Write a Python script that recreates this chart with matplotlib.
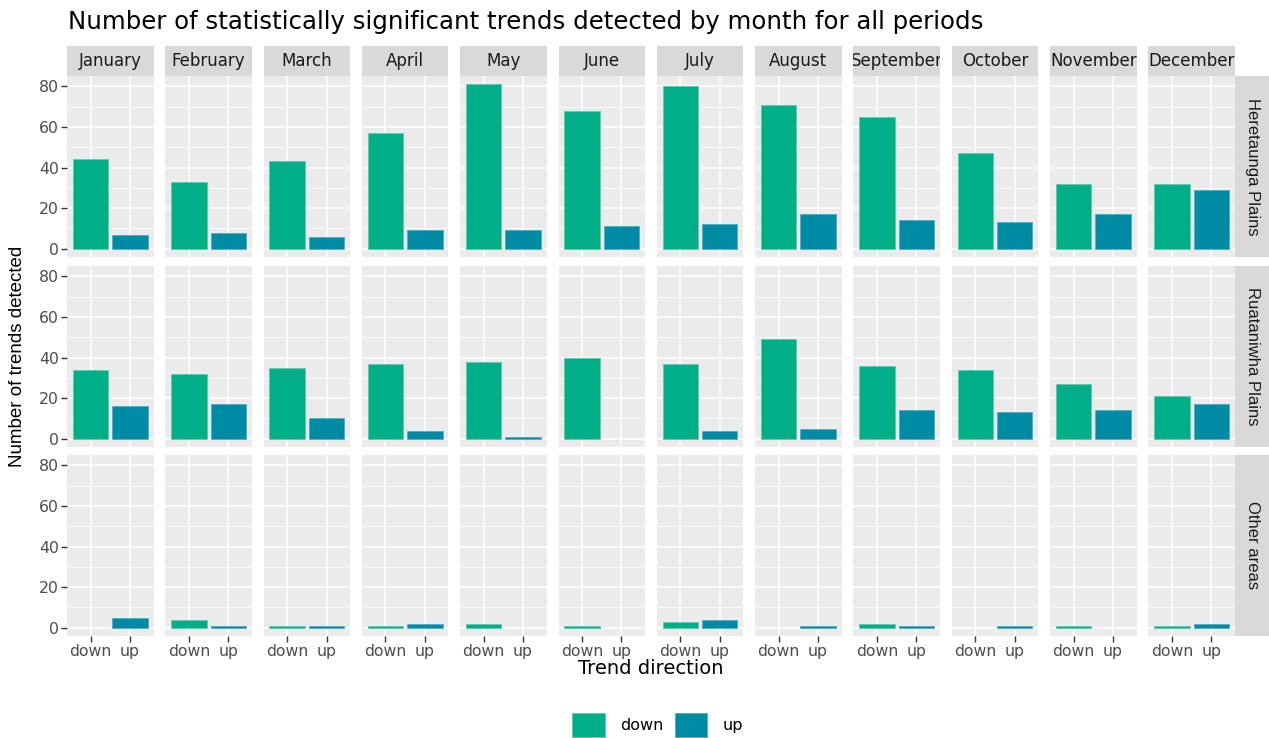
import matplotlib
matplotlib.use("Agg")
import matplotlib.pyplot as plt
from matplotlib.patches import Patch
import numpy as np

# the reference text is wide, DejaVu gets closest for horizontal text
plt.rcParams["font.family"] = ["DejaVu Sans"]
ROT_FONT = ["Liberation Sans", "DejaVu Sans"]

# ------------------------------------------
# Data

months = ["January", "February", "March", "April", "May", "June",
          "July", "August", "September", "October", "November", "December"]
areas = ["Heretaunga Plains", "Ruataniwha Plains", "Other areas"]
directions = ["down", "up"]

heretaunga_down = [44, 33, 43, 57, 81, 68, 80, 71, 65, 47, 32, 32]
heretaunga_up = [7, 8, 6, 9, 9, 11, 12, 17, 14, 13, 17, 29]
ruataniwha_down = [34, 32, 35, 37, 38, 40, 37, 49, 36, 34, 27, 21]
ruataniwha_up = [16, 17, 10, 4, 1, 0, 4, 5, 14, 13, 14, 17]
other_down = [0, 4, 1, 1, 2, 1, 3, 0, 2, 0, 1, 1]
other_up = [5, 1, 1, 2, 0, 0, 4, 1, 1, 1, 0, 2]

counts = {
    "Heretaunga Plains": (heretaunga_down, heretaunga_up),
    "Ruataniwha Plains": (ruataniwha_down, ruataniwha_up),
    "Other areas": (other_down, other_up),
}

colors = {"down": "#00AF87", "up": "#008BA5"}
edges = {"down": "#5CCCAE", "up": "#4FAEC2"}

# ------------------------------------------
# Layout (pixels)

W, H = 1269, 738
fig = plt.figure(figsize=(W / 100, H / 100), dpi=100)


def rect(x0, y0, w, h):
    return [x0 / W, 1 - (y0 + h) / H, w / W, h / H]


left = 67
panel_w = 86.5
gap_x = 11.8
row_tops = [76, 266, 455]
panel_h = 181
strip_h = 30
strip_w = 35

for r, area in enumerate(areas):
    down_vals, up_vals = counts[area]
    for c, month in enumerate(months):
        x0 = left + c * (panel_w + gap_x)
        ax = fig.add_axes(rect(x0, row_tops[r], panel_w, panel_h))
        ax.set_facecolor("#EBEBEB")
        for s in ax.spines.values():
            s.set_visible(False)

        xs = []
        hs = []
        cs = []
        es = []
        for i, (d, v) in enumerate(zip(directions, [down_vals[c], up_vals[c]])):
            if v > 0:
                xs.append(i + 1)
                hs.append(v)
                cs.append(colors[d])
                es.append(edges[d])
        if xs:
            ax.bar(xs, hs, width=0.9, color=cs, edgecolor=es, linewidth=0.6, zorder=3)

        ax.set_xlim(0.4, 2.6)
        ax.set_ylim(-4.05, 85.05)
        ax.set_xticks([1, 2])
        ax.set_xticklabels(directions)
        ax.set_yticks([0, 20, 40, 60, 80])
        ax.set_yticks([10, 30, 50, 70], minor=True)
        ax.grid(which="major", color="white", linewidth=1.1, zorder=0)
        ax.grid(which="minor", axis="y", color="white", linewidth=0.55, zorder=0)
        ax.set_axisbelow(True)
        ax.tick_params(which="major", length=4, width=1, color="#333333",
                       labelsize=11.3, labelcolor="#4D4D4D", pad=2)
        ax.tick_params(which="minor", length=0)
        if c != 0:
            ax.tick_params(axis="y", left=False, labelleft=False)
        if r != len(areas) - 1:
            ax.tick_params(axis="x", bottom=False, labelbottom=False)

        # top strip
        if r == 0:
            sax = fig.add_axes(rect(x0, row_tops[0] - strip_h, panel_w, strip_h))
            sax.set_facecolor("#D9D9D9")
            sax.set_xticks([])
            sax.set_yticks([])
            for s in sax.spines.values():
                s.set_visible(False)
            sax.text(0.5, 0.5, month, ha="center", va="center", fontsize=12,
                     color="#1A1A1A", transform=sax.transAxes, clip_on=True)

    # right strip
    rx = left + 12 * panel_w + 11 * gap_x
    rax = fig.add_axes(rect(rx, row_tops[r], strip_w, panel_h))
    rax.set_facecolor("#D9D9D9")
    rax.set_xticks([])
    rax.set_yticks([])
    for s in rax.spines.values():
        s.set_visible(False)
    rax.text(0.5, 0.5, area, ha="center", va="center", rotation=-90,
             fontsize=12, color="#1A1A1A", transform=rax.transAxes,
             family=ROT_FONT)

# ------------------------------------------
# Labels and legend

fig.text(68 / W, 1 - 22.5 / H,
         "Number of statistically significant trends detected by month for all periods",
         ha="left", va="center", fontsize=17.6, color="black")
fig.text(18 / W, 1 - 356 / H, "Number of trends detected", rotation=90,
         ha="center", va="center", fontsize=13.5, color="black", family=ROT_FONT)
fig.text(651 / W, 1 - 669 / H, "Trend direction", ha="center", va="center",
         fontsize=14, color="black")

handles = [Patch(facecolor=colors[d], edgecolor=edges[d], linewidth=0.6) for d in directions]
fig.legend(handles, directions, loc="center", bbox_to_anchor=(657.5 / W, 1 - 725 / H),
           ncol=2, frameon=False, fontsize=11.5, handlelength=2.06, handleheight=1.9,
           columnspacing=0.7, handletextpad=0.94)

fig.savefig("out.png", dpi=100)
